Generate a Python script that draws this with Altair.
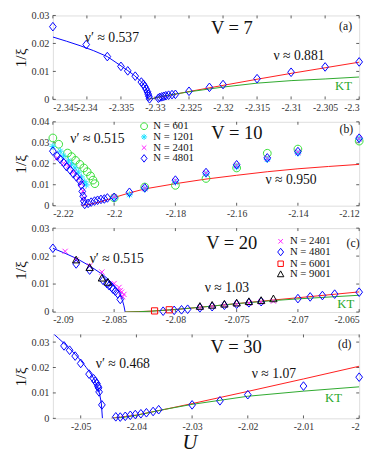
import altair as alt
import pandas as pd

FONT = "Liberation Serif"
W, H = 314, 86

BLUE = "#0000ff"
RED = "#ff1a1a"
KTGREEN = "#2aa82a"
C601 = "#33dd33"
C1201 = "#1ae0ff"
C2401 = "#ff22ff"
C6001 = "#ff0000"
C9001 = "#000000"

DIAMOND = "M0,-1L0.78,0L0,1L-0.78,0Z"
CIRCLE = "M0.9,0A0.9,0.9 0 1,1 -0.9,0A0.9,0.9 0 1,1 0.9,0Z"
STAR = "M-0.8,0L0.8,0M0,-0.8L0,0.8M-0.56,-0.56L0.56,0.56M-0.56,0.56L0.56,-0.56"
XMARK = "M-0.6,-0.6L0.6,0.6M-0.6,0.6L0.6,-0.6"
SQUARE = "M-0.72,-0.72L0.72,-0.72L0.72,0.72L-0.72,0.72Z"
TRIANGLE = "M0,-0.95L0.85,0.6L-0.85,0.6Z"

# ---------------- panel (a) V = 7 ----------------
a_xticks = [-2.345, -2.34, -2.335, -2.33, -2.325, -2.32, -2.315, -2.31, -2.305, -2.3]
a_yticks = [0, 0.01, 0.02, 0.03]
a_U = [-2.345, -2.3401, -2.337, -2.335, -2.334, -2.3329, -2.332, -2.3317, -2.3315, -2.3313,
       -2.3311, -2.331, -2.3309, -2.3308, -2.3295, -2.3293, -2.329, -2.3287, -2.3284, -2.328,
       -2.3275, -2.327, -2.325, -2.322, -2.32, -2.315, -2.31, -2.305, -2.3]
a_inv = [0.0260, 0.0196, 0.0153, 0.0118, 0.0102, 0.0083, 0.0062, 0.0054, 0.0046, 0.0037,
         0.0027, 0.0019, 0.0011, 0.0002, 0.0004, 0.0007, 0.0009, 0.0011, 0.0013, 0.0015,
         0.0017, 0.0018, 0.0029, 0.0043, 0.0053, 0.0074, 0.0097, 0.0116, 0.0134]
a_blue_U = [-2.345, -2.343, -2.341, -2.339, -2.337, -2.335, -2.334, -2.333, -2.332, -2.3315, -2.3312, -2.3311, -2.331]
a_blue_v = [0.0223, 0.0208, 0.0192, 0.0174, 0.0153, 0.0120, 0.0103, 0.0085, 0.0063, 0.0048, 0.0033, 0.0020, 0.0]
a_red_U = [-2.331, -2.3295, -2.328, -2.325, -2.32, -2.315, -2.31, -2.305, -2.3]
a_red_v = [0.0, 0.0007, 0.0014, 0.0028, 0.0050, 0.0072, 0.0093, 0.0113, 0.0133]
a_kt_U = [-2.331, -2.3305, -2.33, -2.329, -2.327, -2.325, -2.32, -2.315, -2.31, -2.305, -2.3]
a_kt_v = [0.0, 0.0002, 0.0005, 0.0011, 0.0019, 0.0027, 0.0044, 0.0058, 0.0067, 0.0073, 0.0080]

# ---------------- panel (b) V = 10 ----------------
b_xticks = [-2.22, -2.2, -2.18, -2.16, -2.14, -2.12]
b_yticks = [0, 0.01, 0.02, 0.03, 0.04]
b601_U = [-2.22, -2.2181, -2.2152, -2.2139, -2.2126, -2.2112, -2.2099, -2.2088, -2.2077, -2.2069,
          -2.2063, -2.2, -2.19, -2.18, -2.17, -2.16, -2.15, -2.14, -2.12]
b601_v = [0.0323, 0.0293, 0.0251, 0.0234, 0.0216, 0.0197, 0.0180, 0.0162, 0.0142, 0.0122,
          0.0105, 0.0037, 0.0089, 0.0097, 0.0130, 0.0180, 0.0250, 0.0270, 0.0308]
b1201_U = [-2.22, -2.2176, -2.2165, -2.2149, -2.2139, -2.2128, -2.2117, -2.2107, -2.2096, -2.2091,
           -2.2, -2.195, -2.19, -2.18, -2.17, -2.16, -2.15, -2.14, -2.12]
b1201_v = [0.0283, 0.0260, 0.0237, 0.0214, 0.0198, 0.0180, 0.0160, 0.0137, 0.0114, 0.0099,
           0.0035, 0.0052, 0.0080, 0.0112, 0.0150, 0.0185, 0.0220, 0.0250, 0.0318]
b2401_U = [-2.2186, -2.2165, -2.2149, -2.2133, -2.2117, -2.2107, -2.2102, -2.2098,
           -2.2, -2.19, -2.18, -2.17, -2.16, -2.15, -2.14, -2.12]
b2401_v = [0.0228, 0.0202, 0.0190, 0.0160, 0.0132, 0.0105, 0.0070, 0.0035,
           0.0043, 0.0083, 0.0120, 0.0155, 0.0192, 0.0225, 0.0255, 0.0320]
b4801_U = [-2.22, -2.2186, -2.2176, -2.2165, -2.2155, -2.2144, -2.2133, -2.2123, -2.2112, -2.2107,
           -2.2104, -2.2101, -2.2099, -2.2096, -2.2085, -2.2075, -2.2064, -2.2054, -2.2043, -2.2032,
           -2.2022, -2.2, -2.195, -2.19, -2.18, -2.17, -2.16, -2.15, -2.14, -2.12]
b4801_v = [0.0260, 0.0237, 0.0222, 0.0206, 0.0186, 0.0171, 0.0152, 0.0137, 0.0119, 0.0099,
           0.0068, 0.0045, 0.0022, 0.0006, 0.0011, 0.0017, 0.0022, 0.0026, 0.0030, 0.0032,
           0.0037, 0.0040, 0.0064, 0.0085, 0.0122, 0.0158, 0.0195, 0.0228, 0.0258, 0.0322]
b_red_U = [-2.2108, -2.209, -2.206, -2.203, -2.2, -2.195, -2.19, -2.18, -2.17, -2.16, -2.15, -2.14, -2.13, -2.12]
b_red_v = [0.0, 0.0004, 0.0013, 0.0025, 0.0039, 0.0061, 0.0080, 0.0105, 0.0127, 0.0145, 0.0162, 0.0176, 0.0187, 0.0197]

# ---------------- panel (c) V = 20 ----------------
c_xticks = [-2.09, -2.085, -2.08, -2.075, -2.07, -2.065]
c_yticks = [0, 0.01, 0.02, 0.03]
c2401_U = [-2.089, -2.0881, -2.087, -2.086, -2.085, -2.0846, -2.0845, -2.0844, -2.0842, -2.0843,
           -2.078, -2.077, -2.076, -2.075, -2.074, -2.073, -2.072]
c2401_v = [0.0217, 0.0186, 0.0165, 0.0143, 0.0102, 0.0088, 0.0077, 0.0071, 0.0063, 0.0055,
           0.0016, 0.0020, 0.0024, 0.0028, 0.0032, 0.0036, 0.0039]
c4801_U = [-2.09, -2.0881, -2.087, -2.0859, -2.0856, -2.0854, -2.0852, -2.0851, -2.0849, -2.0847,
           -2.0845, -2.081, -2.0801, -2.0795, -2.079, -2.078, -2.077, -2.076, -2.075, -2.074,
           -2.073, -2.07, -2.069, -2.068, -2.067, -2.065]
c4801_v = [0.0228, 0.0172, 0.0150, 0.0113, 0.0102, 0.0094, 0.0088, 0.0082, 0.0074, 0.0065,
           0.0045, 0.0003, 0.0006, 0.0008, 0.0010, 0.0015, 0.0019, 0.0024, 0.0028, 0.0033,
           0.0037, 0.0048, 0.0054, 0.0059, 0.0064, 0.0071]
c6001_U = [-2.0817, -2.0805]
c6001_v = [0.0004, 0.0008]
c9001_U = [-2.0881, -2.087, -2.086, -2.0855, -2.078, -2.077, -2.076, -2.075, -2.074, -2.073, -2.072]
c9001_v = [0.0185, 0.0158, 0.0120, 0.0105, 0.0019, 0.0023, 0.0027, 0.0031, 0.0036, 0.0040, 0.0046]
c_blue_U = [-2.09, -2.089, -2.088, -2.087, -2.086, -2.0855, -2.085, -2.0847, -2.0845, -2.0843, -2.0842, -2.0841]
c_blue_v = [0.0228, 0.0210, 0.0190, 0.0165, 0.0136, 0.0118, 0.0096, 0.0078, 0.0060, 0.0038, 0.0022, 0.0]
c_red_U = [-2.0841, -2.082, -2.08, -2.078, -2.075, -2.072, -2.07, -2.065]
c_red_v = [0.0, 0.0003, 0.0009, 0.0017, 0.0030, 0.0043, 0.0051, 0.0072]
c_kt_U = [-2.0841, -2.083, -2.082, -2.08, -2.078, -2.075, -2.072, -2.07, -2.065]
c_kt_v = [0.0, 0.0001, 0.0003, 0.0009, 0.0017, 0.0030, 0.0041, 0.0047, 0.0060]

# ---------------- panel (d) V = 30 ----------------
d_xticks = [-2.05, -2.04, -2.03, -2.02, -2.01, -2.0]
d_yticks = [0, 0.01, 0.02, 0.03]
d_U = [-2.053, -2.052, -2.051, -2.050, -2.0485, -2.0477, -2.0474, -2.0471, -2.0469, -2.0468,
       -2.0467, -2.0462, -2.0437, -2.0429, -2.042, -2.0411, -2.0402, -2.0392, -2.0382, -2.037,
       -2.036, -2.03, -2.025, -2.02, -2.01, -2.0]
d_inv = [0.0285, 0.0268, 0.0245, 0.0216, 0.0174, 0.0156, 0.0146, 0.0137, 0.0126, 0.0120,
         0.0104, 0.0053, 0.0006, 0.0005, 0.0008, 0.0012, 0.0015, 0.0018, 0.0022, 0.0027,
         0.0034, 0.0053, 0.0069, 0.0093, 0.0127, 0.0162]
d_blue_U = [-2.055, -2.054, -2.053, -2.052, -2.051, -2.050, -2.049, -2.048, -2.0475, -2.047, -2.0466, -2.0463, -2.0461]
d_blue_v = [0.0335, 0.0315, 0.0295, 0.0274, 0.0252, 0.0228, 0.0200, 0.0170, 0.0150, 0.0125, 0.0095, 0.0060, 0.0]
d_red_U = [-2.0445, -2.042, -2.04, -2.035, -2.03, -2.025, -2.02, -2.01, -2.0]
d_red_v = [0.0, 0.0007, 0.0013, 0.0035, 0.0058, 0.0082, 0.0106, 0.0155, 0.0205]
d_kt_U = [-2.0445, -2.043, -2.042, -2.04, -2.035, -2.03, -2.025, -2.02, -2.01, -2.0]
d_kt_v = [0.0, 0.0002, 0.0005, 0.0012, 0.0035, 0.0055, 0.0071, 0.0087, 0.0107, 0.0124]

# annotations (data coordinates)
a_notes = [(-2.3187, 0.0253, "V = 7", "big"), (-2.302, 0.0263, "(a)", "tag"),
           (-2.3403, 0.0218, "ν′ ≈ 0.537", "nu"), (-2.3126, 0.0155, "ν ≈ 0.881", "nu"),
           (-2.3023, 0.0047, "KT", "kt")]
b_notes = [(-2.1599, 0.0345, "V = 10", "big"), (-2.1242, 0.0363, "(b)", "tag"),
           (-2.2143, 0.0317, "ν′ ≈ 0.515", "nu"), (-2.1506, 0.0123, "ν ≈ 0.950", "nu")]
c_notes = [(-2.0754, 0.0248, "V = 20", "big"), (-2.0655, 0.0248, "(c)", "tag"),
           (-2.087, 0.0190, "ν′ ≈ 0.515", "nu"), (-2.0776, 0.0084, "ν ≈ 1.03", "nu"),
           (-2.0661, 0.0029, "KT", "kt")]
d_notes = [(-2.0221, 0.0282, "V = 30", "big"), (-2.0026, 0.0293, "(d)", "tag"),
           (-2.0473, 0.0212, "ν′ ≈ 0.468", "nu"), (-2.0193, 0.0174, "ν ≈ 1.07", "nu"),
           (-2.0046, 0.0081, "KT", "kt")]

NOTE_STYLE = {
    "big": dict(fontSize=19, align="center"),
    "tag": dict(fontSize=12, align="center"),
    "nu": dict(fontSize=14, align="left"),
    "kt": dict(fontSize=13, align="center", color=KTGREEN),
}


def fmt_expr(d):
    return (f"datum.value < 0 ? '-' + format(-datum.value, '.{d}~f') "
            f": format(datum.value, '.{d}~f')")


def make_panel(xdom, ydom, xticks, yticks, xdec, groups, lines, notes,
               xtitle=None, legend_xy=None, row_pad=0):
    xs = alt.Scale(domain=xdom, nice=False, zero=False)
    ys = alt.Scale(domain=ydom, nice=False, zero=False)
    xkw = dict(values=xticks, labelExpr=fmt_expr(xdec), ticks=False, domain=False, grid=False,
               labelFont=FONT, labelFontSize=10, labelColor="#333", labelPadding=3,
               labelOverlap=False)
    if xtitle:
        xax = alt.Axis(title=xtitle, titleFont=FONT, titleFontSize=21, titleFontStyle="italic",
                       titleFontWeight="normal", titleColor="#111", titleX=140, titleY=14,
                       titleBaseline="top", titleAlign="center", **xkw)
    else:
        xax = alt.Axis(title=None, **xkw)
    yax = alt.Axis(values=yticks, labelExpr=fmt_expr(2), ticks=False, domain=False, grid=False,
                   labelFont=FONT, labelFontSize=10.5, labelColor="#333", labelPadding=4,
                   title="1/ξ", titleFont=FONT, titleFontSize=16, titleFontWeight="normal",
                   titleColor="#111", titlePadding=3)

    def X(f):
        return alt.X(f, type="quantitative", scale=xs, axis=xax)

    def Y(f):
        return alt.Y(f, type="quantitative", scale=ys, axis=yax)

    layers = []
    xt = pd.DataFrame({"t": xticks})
    yt = pd.DataFrame({"t": yticks})
    tick = dict(color="#333", strokeWidth=0.8)
    layers.append(alt.Chart(xt).mark_rule(**tick).encode(x=X("t"), y=alt.value(H), y2=alt.value(H - 3)))
    layers.append(alt.Chart(xt).mark_rule(**tick).encode(x=X("t"), y=alt.value(0), y2=alt.value(3)))
    layers.append(alt.Chart(yt).mark_rule(**tick).encode(y=Y("t"), x=alt.value(0), x2=alt.value(3)))
    layers.append(alt.Chart(yt).mark_rule(**tick).encode(y=Y("t"), x=alt.value(W), x2=alt.value(W - 3)))

    for us, vs, col in lines:
        df = pd.DataFrame({"U": us, "v": vs})
        layers.append(alt.Chart(df).mark_line(color=col, strokeWidth=1, clip=True)
                      .encode(x=X("U"), y=Y("v")))

    rows = []
    for label, us, vs, col, shp in groups:
        for u, v in zip(us, vs):
            rows.append({"N": label, "U": u, "v": v})
    pdf = pd.DataFrame(rows)
    labels = [g[0] for g in groups]
    cols = [g[3] for g in groups]
    shps = [g[4] for g in groups]
    if legend_xy is not None:
        leg = alt.Legend(orient="none", legendX=legend_xy[0], legendY=legend_xy[1], title=None,
                         labelFont=FONT, labelFontSize=11, labelColor="#111", symbolSize=60,
                         symbolStrokeWidth=1, rowPadding=row_pad, labelOffset=4, padding=0)
    else:
        leg = None
    layers.append(alt.Chart(pdf).mark_point(filled=False, size=78, strokeWidth=1, opacity=1)
                  .encode(x=X("U"), y=Y("v"),
                          color=alt.Color("N:N", scale=alt.Scale(domain=labels, range=cols), legend=leg),
                          shape=alt.Shape("N:N", scale=alt.Scale(domain=labels, range=shps), legend=leg)))

    ndf = pd.DataFrame([{"U": n[0], "v": n[1], "txt": n[2], "s": n[3]} for n in notes])
    for st, kw in NOTE_STYLE.items():
        if st not in set(ndf["s"]):
            continue
        kw2 = dict(font=FONT, baseline="middle", color="#111")
        kw2.update(kw)
        layers.append(alt.Chart(ndf).transform_filter(alt.datum.s == st)
                      .mark_text(**kw2).encode(x=X("U"), y=Y("v"), text="txt:N"))

    return alt.layer(*layers).properties(width=W, height=H).resolve_scale(color="independent", shape="independent")


pa = make_panel([-2.345, -2.3], [0, 0.03], a_xticks, a_yticks, 3,
                [("N = 4801", a_U, a_inv, BLUE, DIAMOND)],
                [(a_blue_U, a_blue_v, BLUE), (a_red_U, a_red_v, RED), (a_kt_U, a_kt_v, KTGREEN)],
                a_notes)
pb = make_panel([-2.22, -2.12], [0, 0.04], b_xticks, b_yticks, 2,
                [("N = 601", b601_U, b601_v, C601, CIRCLE),
                 ("N = 1201", b1201_U, b1201_v, C1201, STAR),
                 ("N = 2401", b2401_U, b2401_v, C2401, XMARK),
                 ("N = 4801", b4801_U, b4801_v, BLUE, DIAMOND)],
                [(b_red_U, b_red_v, RED)],
                b_notes, legend_xy=(88, -1), row_pad=-2.5)
pc = make_panel([-2.09, -2.065], [0, 0.03], c_xticks, c_yticks, 3,
                [("N = 2401", c2401_U, c2401_v, C2401, XMARK),
                 ("N = 4801", c4801_U, c4801_v, BLUE, DIAMOND),
                 ("N = 6001", c6001_U, c6001_v, C6001, SQUARE),
                 ("N = 9001", c9001_U, c9001_v, C9001, TRIANGLE)],
                [(c_blue_U, c_blue_v, BLUE), (c_red_U, c_red_v, RED), (c_kt_U, c_kt_v, KTGREEN)],
                c_notes, legend_xy=(228, 8), row_pad=-1)
pd_ = make_panel([-2.055, -2.0], [0, 0.033], d_xticks, d_yticks, 2,
                 [("N = 4801", d_U, d_inv, BLUE, DIAMOND)],
                 [(d_blue_U, d_blue_v, BLUE), (d_red_U, d_red_v, RED), (d_kt_U, d_kt_v, KTGREEN)],
                 d_notes, xtitle="U")

chart = (alt.vconcat(pa, pb, pc, pd_, spacing=23, bounds="flush",
                     padding={"left": 4, "top": -4, "right": 0, "bottom": 0})
         .resolve_scale(color="independent", shape="independent", x="independent", y="independent")
         .resolve_legend(color="independent", shape="independent")
         .configure_view(stroke="#111", strokeWidth=0.8)
         .configure(font=FONT))

chart.save("out.html", embed_options={"renderer": "svg", "actions": False})
